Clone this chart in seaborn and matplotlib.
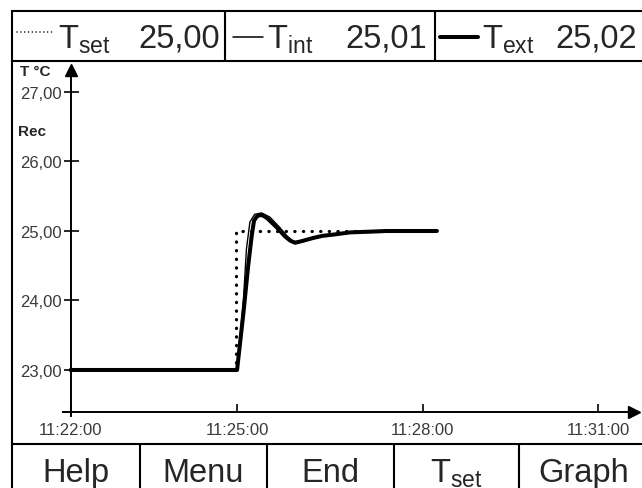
"""
Controller screen: step response of T_set / T_int / T_ext.
"""

import matplotlib

matplotlib.use("Agg")
import matplotlib.pyplot as plt
from matplotlib.lines import Line2D
import seaborn as sns

# ---- data (time in minutes after 11:22:00, temperature in °C) ----
TSET_TIME = [0.0, 2.83, 2.83, 6.25]
TSET_VAL = [23.0, 23.0, 25.0, 25.0]

TINT_TIME = [0.0, 2.84, 2.95, 3.00, 3.06, 3.14, 3.26, 3.40, 3.57, 3.69, 3.80,
             3.91, 4.08, 4.30, 4.60, 5.00, 5.40, 6.25]
TINT_VAL = [23.0, 23.0, 24.02, 24.74, 25.13, 25.24, 25.26, 25.20, 25.05, 24.93, 24.85,
            24.85, 24.89, 24.93, 24.96, 24.99, 25.00, 25.00]

TEXT_TIME = [0.0, 2.84, 2.95, 3.03, 3.09, 3.13, 3.18, 3.23, 3.29, 3.36, 3.52, 3.66,
             3.75, 3.83, 3.97, 4.14, 4.30, 4.50, 4.77, 5.10, 5.39, 6.25]
TEXT_VAL = [23.0, 23.0, 23.83, 24.50, 24.93, 25.15, 25.21, 25.23, 25.22, 25.18, 25.05,
            24.92, 24.86, 24.83, 24.86, 24.90, 24.93, 24.95, 24.98, 24.99, 25.00, 25.00]

XTICK_POS = [0.0, 2.84, 6.01, 9.0]
XTICK_LABELS = ["11:22:00", "11:25:00", "11:28:00", "11:31:00"]
YTICK_POS = [23, 24, 25, 26, 27]
YTICK_LABELS = ["23,00", "24,00", "25,00", "26,00", "27,00"]

HEADER_NAMES = ["T$_{\\mathregular{set}}$", "T$_{\\mathregular{int}}$", "T$_{\\mathregular{ext}}$"]
HEADER_VALUES = ["25,00", "25,01", "25,02"]
BUTTONS = ["Help", "Menu", "End", "T$_{\\mathregular{set}}$", "Graph"]

W, H = 642, 489


def fx(x):
    return x / W


def fy(y):
    return 1 - y / H


def hline(fig, x0, x1, y, lw=1.5, **kw):
    fig.add_artist(Line2D([fx(x0), fx(x1)], [fy(y), fy(y)], transform=fig.transFigure,
                          color="black", lw=lw, **kw))


def vline(fig, x, y0, y1, lw=1.5):
    fig.add_artist(Line2D([fx(x), fx(x)], [fy(y0), fy(y1)], transform=fig.transFigure,
                          color="black", lw=lw))


sns.set_theme(style="white")
plt.rcParams["font.family"] = ["Liberation Sans", "DejaVu Sans"]
plt.rcParams["mathtext.fontset"] = "custom"
plt.rcParams["mathtext.rm"] = "Liberation Sans"

fig = plt.figure(figsize=(6.42, 4.89), dpi=100)
ax = fig.add_axes([fx(12), fy(445), fx(648) - fx(12), fy(62) - fy(445)])
ax.set_facecolor("white")

# curves
sns.lineplot(x=TEXT_TIME, y=TEXT_VAL, color="black", lw=2.9, estimator=None,
             sort=False, ax=ax)
sns.lineplot(x=TINT_TIME, y=TINT_VAL, color="black", lw=1.0, estimator=None,
             sort=False, ax=ax)
sns.lineplot(x=TSET_TIME, y=TSET_VAL, color="black", lw=2.3, estimator=None,
             sort=False, linestyle=(0, (0.1, 2.6)), dash_capstyle="round", ax=ax)

# axes with arrows
ax.set_xlim(-1.0, 9.852)
ax.set_ylim(21.935, 27.446)
ax.spines[["top", "right"]].set_visible(False)
ax.spines["left"].set_position(("data", 0))
ax.spines["bottom"].set_position(("data", 22.396))
ax.spines["left"].set_bounds(22.338, 27.33)
ax.spines["bottom"].set_bounds(-0.13, 9.58)
for s in ("left", "bottom"):
    ax.spines[s].set_linewidth(1.4)
    ax.spines[s].set_color("black")
ax.plot(0, 27.32, marker="^", color="black", markersize=9, clip_on=False)
ax.plot(9.62, 22.396, marker=">", color="black", markersize=9, clip_on=False)

ax.set_xticks(XTICK_POS, XTICK_LABELS)
ax.set_yticks(YTICK_POS, YTICK_LABELS)
ax.tick_params(axis="y", direction="inout", length=10.8, width=1.4, pad=1,
               labelsize=12, labelcolor="#3a3a3a", left=True)
ax.tick_params(axis="x", direction="in", length=5.8, width=1.4, pad=7.5,
               labelsize=12, labelcolor="#3a3a3a", bottom=True)
ax.set_xlabel("")
ax.set_ylabel("")

fig.text(fx(20), fy(76), "T °C", fontsize=11, fontweight="bold", va="baseline")
fig.text(fx(18), fy(136), "Rec", fontsize=11, fontweight="bold", va="baseline")

# header box
hline(fig, 12, 650, 12)
hline(fig, 12, 650, 62)
for x in (12, 225, 435):
    vline(fig, x, 12, 62)
vline(fig, 12, 62, 489)

hline(fig, 17, 52, 33, lw=1.1, linestyle=(0, (0.1, 2.4)), dash_capstyle="round")
hline(fig, 233, 263, 38, lw=1.1)
hline(fig, 440, 478, 38, lw=2.9)
for name, value, xn, xv in zip(HEADER_NAMES, HEADER_VALUES, (58, 267, 482), (138, 345, 555)):
    fig.text(fx(xn), fy(48), name, fontsize=23.5, va="baseline", ha="left")
    fig.text(fx(xv), fy(48), value, fontsize=23.5, va="baseline", ha="left")

# button row
edges = [12, 140, 267, 394, 519, 648]
hline(fig, 12, 650, 445)
for x in edges[1:-1]:
    vline(fig, x, 445, 489)
for label, a, b in zip(BUTTONS, edges[:-1], edges[1:]):
    fig.text(fx((a + b) / 2), fy(482), label, fontsize=23.5, va="baseline", ha="center")

fig.savefig("out.png", dpi=100, facecolor="white")
plt.close()
